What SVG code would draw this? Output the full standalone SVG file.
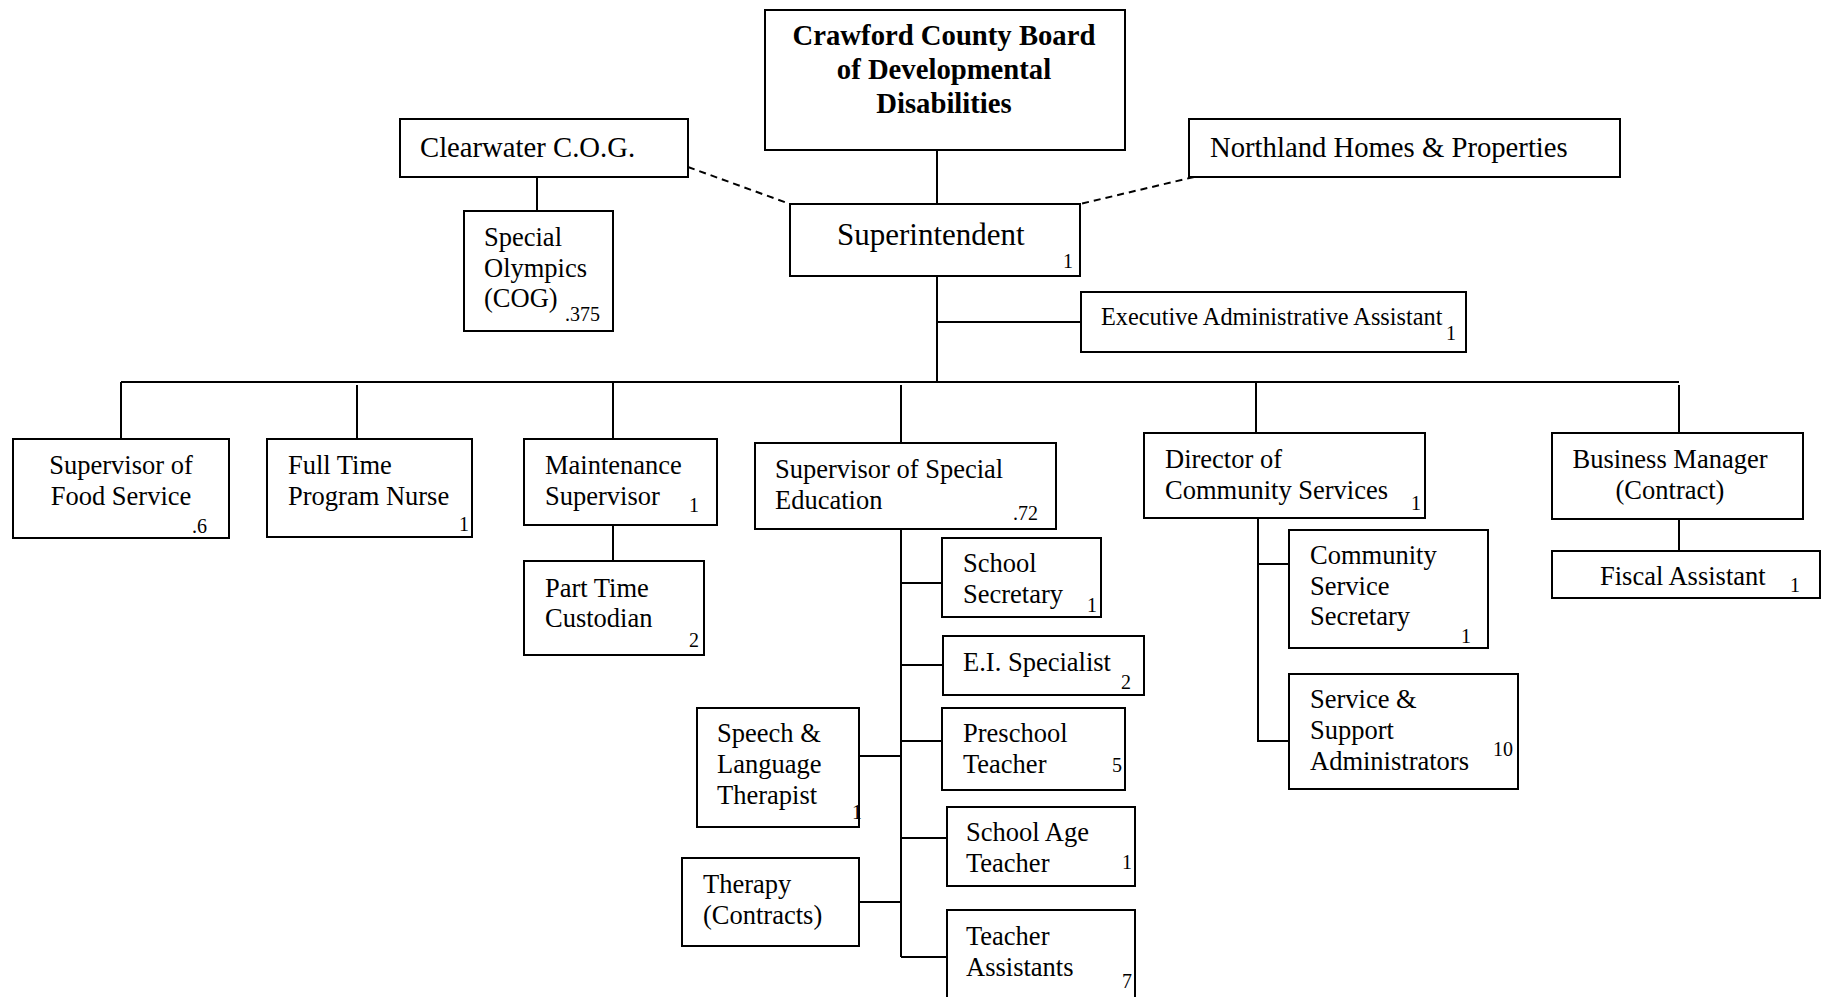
<svg xmlns="http://www.w3.org/2000/svg" width="1821" height="997" viewBox="0 0 1821 997">
<style>
.box{fill:#fff;stroke:#000;stroke-width:2}
.ln{fill:none;stroke:#000;stroke-width:2}
.dash{fill:none;stroke:#000;stroke-width:2;stroke-dasharray:7 5}
text{font-family:"Liberation Serif","Times New Roman",serif;fill:#000}
.t{font-size:26.5px}
.big{font-size:28.7px}
.sup{font-size:31px}
.sm{font-size:24.3px}
.n{font-size:20px}
.b{font-size:28.7px;font-weight:bold}
.c{text-anchor:middle}
.r{text-anchor:end}
</style>
<g id="connectors">
<line class="ln" x1="937" y1="150" x2="937" y2="204"/>
<line class="dash" x1="688" y1="167" x2="790" y2="204"/>
<line class="dash" x1="1194" y1="177" x2="1080" y2="204"/>
<line class="ln" x1="537" y1="177" x2="537" y2="211"/>
<line class="ln" x1="937" y1="276" x2="937" y2="382"/>
<line class="ln" x1="937" y1="322" x2="1081" y2="322"/>
<line class="ln" x1="121" y1="382" x2="1679" y2="382"/>
<line class="ln" x1="121" y1="382" x2="121" y2="439"/>
<line class="ln" x1="357" y1="385" x2="357" y2="439"/>
<line class="ln" x1="613" y1="382" x2="613" y2="439"/>
<line class="ln" x1="901" y1="385" x2="901" y2="442"/>
<line class="ln" x1="1256" y1="382" x2="1256" y2="433"/>
<line class="ln" x1="1679" y1="385" x2="1679" y2="433"/>
<line class="ln" x1="613" y1="525" x2="613" y2="561"/>
<line class="ln" x1="1679" y1="519" x2="1679" y2="551"/>
<polyline class="ln" points="1258,518 1258,741 1289,741"/>
<line class="ln" x1="1258" y1="564" x2="1289" y2="564"/>
<line class="ln" x1="901" y1="528" x2="901" y2="957"/>
<line class="ln" x1="901" y1="583" x2="942" y2="583"/>
<line class="ln" x1="901" y1="665" x2="943" y2="665"/>
<line class="ln" x1="901" y1="741" x2="942" y2="741"/>
<line class="ln" x1="901" y1="838" x2="947" y2="838"/>
<line class="ln" x1="901" y1="957" x2="947" y2="957"/>
<line class="ln" x1="859" y1="756" x2="901" y2="756"/>
<line class="ln" x1="859" y1="902" x2="901" y2="902"/>
</g>
<g id="board">
<rect class="box" x="765" y="10" width="360" height="140"/>
<text class="b c" x="944" y="45">Crawford County Board</text>
<text class="b c" x="944" y="79">of Developmental</text>
<text class="b c" x="944" y="113">Disabilities</text>
</g>
<g id="clearwater">
<rect class="box" x="400" y="119" width="288" height="58"/>
<text class="big" x="420" y="157">Clearwater C.O.G.</text>
</g>
<g id="northland">
<rect class="box" x="1189" y="119" width="431" height="58"/>
<text class="big" x="1210" y="157">Northland Homes &amp; Properties</text>
</g>
<g id="superintendent">
<rect class="box" x="790" y="204" width="290" height="72"/>
<text class="sup" x="837" y="245">Superintendent</text>
<text class="n" x="1063" y="268">1</text>
</g>
<g id="special-olympics">
<rect class="box" x="464" y="211" width="149" height="120"/>
<text class="t" x="484" y="246">Special</text>
<text class="t" x="484" y="277">Olympics</text>
<text class="t" x="484" y="307">(COG)</text>
<text class="n" x="565" y="321">.375</text>
</g>
<g id="exec-assistant">
<rect class="box" x="1081" y="292" width="385" height="60"/>
<text class="sm" x="1101" y="325">Executive Administrative Assistant</text>
<text class="n" x="1446" y="340">1</text>
</g>
<g id="food-service">
<rect class="box" x="13" y="439" width="216" height="99"/>
<text class="t c" x="121" y="474">Supervisor of</text>
<text class="t c" x="121" y="505">Food Service</text>
<text class="n" x="192" y="533">.6</text>
</g>
<g id="nurse">
<rect class="box" x="267" y="439" width="205" height="98"/>
<text class="t" x="288" y="474">Full Time</text>
<text class="t" x="288" y="505">Program Nurse</text>
<text class="n" x="459" y="531">1</text>
</g>
<g id="maintenance">
<rect class="box" x="524" y="439" width="193" height="86"/>
<text class="t" x="545" y="474">Maintenance</text>
<text class="t" x="545" y="505">Supervisor</text>
<text class="n" x="689" y="512">1</text>
</g>
<g id="custodian">
<rect class="box" x="524" y="561" width="180" height="94"/>
<text class="t" x="545" y="597">Part Time</text>
<text class="t" x="545" y="627">Custodian</text>
<text class="n" x="689" y="647">2</text>
</g>
<g id="special-ed">
<rect class="box" x="755" y="443" width="301" height="86"/>
<text class="t" x="775" y="478">Supervisor of Special</text>
<text class="t" x="775" y="509">Education</text>
<text class="n" x="1013" y="520">.72</text>
</g>
<g id="director">
<rect class="box" x="1144" y="433" width="281" height="85"/>
<text class="t" x="1165" y="468">Director of</text>
<text class="t" x="1165" y="499">Community Services</text>
<text class="n" x="1411" y="510">1</text>
</g>
<g id="business-manager">
<rect class="box" x="1552" y="433" width="251" height="86"/>
<text class="t c" x="1670" y="468">Business Manager</text>
<text class="t c" x="1670" y="499">(Contract)</text>
</g>
<g id="fiscal-assistant">
<rect class="box" x="1552" y="551" width="268" height="47"/>
<text class="t" x="1600" y="585">Fiscal Assistant</text>
<text class="n" x="1790" y="592">1</text>
</g>
<g id="community-secretary">
<rect class="box" x="1289" y="530" width="199" height="118"/>
<text class="t" x="1310" y="564">Community</text>
<text class="t" x="1310" y="595">Service</text>
<text class="t" x="1310" y="625">Secretary</text>
<text class="n" x="1461" y="643">1</text>
</g>
<g id="ssa">
<rect class="box" x="1289" y="674" width="229" height="115"/>
<text class="t" x="1310" y="708">Service &amp;</text>
<text class="t" x="1310" y="739">Support</text>
<text class="t" x="1310" y="770">Administrators</text>
<text class="n" x="1493" y="756">10</text>
</g>
<g id="school-secretary">
<rect class="box" x="942" y="538" width="159" height="79"/>
<text class="t" x="963" y="572">School</text>
<text class="t" x="963" y="603">Secretary</text>
<text class="n" x="1087" y="612">1</text>
</g>
<g id="ei-specialist">
<rect class="box" x="943" y="636" width="201" height="59"/>
<text class="t" x="963" y="671">E.I. Specialist</text>
<text class="n" x="1121" y="689">2</text>
</g>
<g id="preschool-teacher">
<rect class="box" x="942" y="708" width="183" height="82"/>
<text class="t" x="963" y="742">Preschool</text>
<text class="t" x="963" y="773">Teacher</text>
<text class="n" x="1112" y="772">5</text>
</g>
<g id="school-age-teacher">
<rect class="box" x="947" y="807" width="188" height="79"/>
<text class="t" x="966" y="841">School Age</text>
<text class="t" x="966" y="872">Teacher</text>
<text class="n" x="1122" y="869">1</text>
</g>
<g id="teacher-assistants">
<rect class="box" x="947" y="910" width="188" height="100"/>
<text class="t" x="966" y="945">Teacher</text>
<text class="t" x="966" y="976">Assistants</text>
<text class="n" x="1122" y="988">7</text>
</g>
<g id="speech-therapist">
<rect class="box" x="697" y="708" width="162" height="119"/>
<text class="t" x="717" y="742">Speech &amp;</text>
<text class="t" x="717" y="773">Language</text>
<text class="t" x="717" y="804">Therapist</text>
<text class="n" x="852" y="819">1</text>
</g>
<g id="therapy-contracts">
<rect class="box" x="682" y="858" width="177" height="88"/>
<text class="t" x="703" y="893">Therapy</text>
<text class="t" x="703" y="924">(Contracts)</text>
</g>
</svg>
